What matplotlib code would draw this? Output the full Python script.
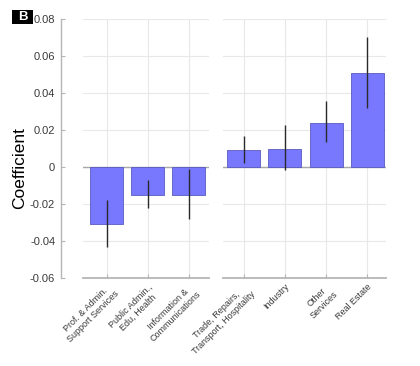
import matplotlib
matplotlib.use("Agg")
import matplotlib.pyplot as plt
from matplotlib.patches import Rectangle

plt.rcParams['font.family'] = ['Liberation Sans', 'DejaVu Sans']

left_labels = ["Prof. & Admin.\nSupport Services", "Public Admin.,\nEdu, Health", "Information &\nCommunications"]
left_vals = [-0.031, -0.015, -0.015]
left_lo = [-0.043, -0.022, -0.028]
left_hi = [-0.018, -0.007, -0.001]

right_labels = ["Trade, Repairs,\nTransport, Hospitality", "Industry", "Other\nServices", "Real Estate"]
right_vals = [0.009, 0.010, 0.024, 0.051]
right_lo = [0.002, -0.0015, 0.0135, 0.032]
right_hi = [0.017, 0.0225, 0.0355, 0.0705]

yticks = [-0.06, -0.04, -0.02, 0, 0.02, 0.04, 0.06, 0.08]
ytick_labels = ["-0.06", "-0.04", "-0.02", "0", "0.02", "0.04", "0.06", "0.08"]

W, H = 420, 366
fig = plt.figure(figsize=(W / 100, H / 100), dpi=100)
fig.patch.set_facecolor('white')

bot = 1 - 278 / H
top = 1 - 19 / H
ax1 = fig.add_axes([83 / W, bot, (209 - 83) / W, top - bot])
ax2 = fig.add_axes([223 / W, bot, (386 - 223) / W, top - bot], sharey=ax1)

face = (0.47, 0.47, 1.0)
edge = (0.35, 0.35, 0.75)
grid_c = '#e8e8e8'
spine_c = '#b5b5b5'
lab_c = '#3a3a3a'

def draw(ax, labels, vals, lo, hi, xlim):
    x = list(range(1, len(vals) + 1))
    ax.bar(x, vals, width=0.8, color=face, edgecolor=edge, linewidth=0.6, zorder=3)
    ax.vlines(x, lo, hi, color='#2a2a2a', linewidth=1.0, zorder=4)
    ax.axhline(0, color='#a8a8a8', linewidth=1.0, zorder=2)
    ax.set_xlim(*xlim)
    ax.set_ylim(-0.06, 0.08)
    ax.set_xticks(x)
    ax.set_xticklabels(labels, rotation=45, ha='right', rotation_mode='anchor',
                       multialignment='center', fontsize=6.5, color=lab_c)
    ax.set_yticks(yticks)
    ax.grid(True, color=grid_c, linewidth=0.8, zorder=0)
    ax.set_axisbelow(True)
    for s in ['top', 'right']:
        ax.spines[s].set_visible(False)
    ax.spines['bottom'].set_color(spine_c)
    ax.spines['bottom'].set_linewidth(1.3)
    ax.tick_params(axis='x', direction='in', length=3, color=spine_c, pad=3)

draw(ax1, left_labels, left_vals, left_lo, left_hi, (0.42, 3.5))
draw(ax2, right_labels, right_vals, right_lo, right_hi, (0.5, 4.45))

ax1.spines['left'].set_position(('outward', 16))
ax1.spines['left'].set_color(spine_c)
ax1.spines['left'].set_linewidth(1.0)
ax1.set_yticklabels(ytick_labels, fontsize=8, color=lab_c)
ax1.tick_params(axis='y', direction='in', length=3, color=spine_c, pad=4)

ax2.spines['left'].set_visible(False)
ax2.tick_params(axis='y', left=False, labelleft=False)

fig.text(20 / W, 1 - 168 / H, "Coefficient", rotation=90, fontsize=12.5,
         ha='center', va='center', color='black')

fig.add_artist(Rectangle((12 / W, 1 - 24 / H), 21 / W, 14 / H,
                         transform=fig.transFigure, facecolor='black', edgecolor='none'))
fig.text(22.5 / W, 1 - 17 / H, "B", fontsize=9.5, fontweight='bold', color='white',
         ha='center', va='center')

fig.savefig("out.png", dpi=100, facecolor='white')
